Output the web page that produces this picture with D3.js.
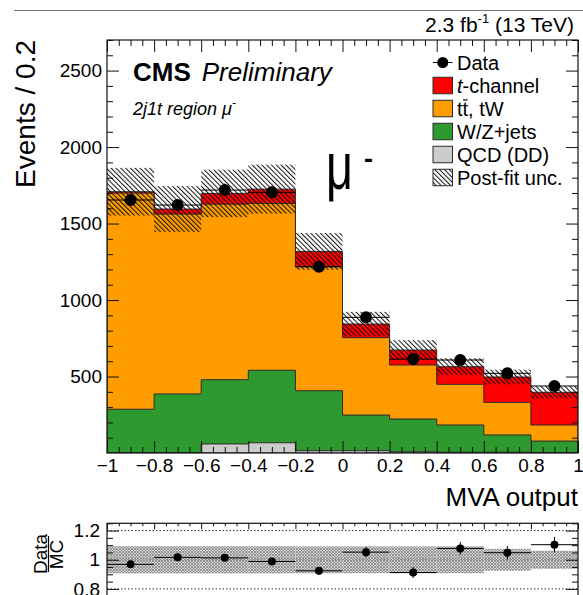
<!DOCTYPE html>
<html>
<head>
<meta charset="utf-8">
<script src="https://cdn.jsdelivr.net/npm/d3@7"></script>
<style>
  html, body { margin: 0; padding: 0; background: #fff; }
  svg { display: block; font-family: "Liberation Sans", Arial, Helvetica, sans-serif; }
</style>
</head>
<body>
<svg id="chart" width="583" height="595"></svg>
<script>
// Binning of the MVA discriminant (10 bins of width 0.2)
const binEdges = [-1, -0.8, -0.6, -0.4, -0.2, 0, 0.2, 0.4, 0.6, 0.8, 1];

// Post-fit yields per bin, stacked bottom to top
const qcdDD    = [0, 0, 59, 67, 15, 15, 8, 5, 5, 3];
const wzJets   = [286, 386, 420, 474, 392, 233, 214, 178, 113, 75];
const ttbarTW  = [1413, 1176, 1148, 1091, 811, 506, 353, 266, 213, 105];
const tChannel = [9, 33, 70, 93, 100, 89, 98, 115, 166, 214];

// Observed events per bin
const dataCounts = [1654, 1621, 1719, 1704, 1218, 887, 614, 608, 521, 438];

// Absolute post-fit uncertainty on the stack total, per bin
const postFitUnc = [156, 150, 155, 160, 120, 80, 65, 55, 48, 40];
// Relative uncertainty band shown in the ratio panel
const ratioBandUnc = [0.093, 0.093, 0.093, 0.093, 0.092, 0.092, 0.092, 0.092, 0.075, 0.062];

// Axis ticks
const xTicks = [-1, -0.8, -0.6, -0.4, -0.2, 0, 0.2, 0.4, 0.6, 0.8, 1];
const yTicks = [500, 1000, 1500, 2000, 2500];
const ratioTicks = [0.8, 1, 1.2];

const colors = { tch: "#ff0000", tt: "#ff9c00", wz: "#2e992e", qcd: "#cccccc", line: "#2b2b2b" };

const svg = d3.select("#chart");
const font = '"Liberation Sans", Arial, Helvetica, sans-serif';

// Layout of the two pads
const L = 107, R = 578;
const mainTop = 40, mainBot = 453;
const ratTop = 523.3, ratBot = 596.2;

const x = d3.scaleLinear().domain([-1, 1]).range([L, R]);
const y = d3.scaleLinear().domain([0, 2700]).range([mainBot, mainTop]);
const yr = d3.scaleLinear().domain([0.75, 1.25]).range([ratBot, ratTop]);

// Patterns: diagonal hatch for the post-fit uncertainty, cross-hatch for the ratio band
const defs = svg.append("defs");
const hatch = defs.append("pattern").attr("id", "hatch")
  .attr("patternUnits", "userSpaceOnUse").attr("width", 3.4).attr("height", 10)
  .attr("patternTransform", "rotate(-45)");
hatch.append("line").attr("x1", 0.5).attr("y1", 0).attr("x2", 0.5).attr("y2", 10)
  .attr("stroke", "#111").attr("stroke-width", 1);

const cross = defs.append("pattern").attr("id", "cross")
  .attr("patternUnits", "userSpaceOnUse").attr("width", 3).attr("height", 3);
cross.append("rect").attr("width", 3).attr("height", 3).attr("fill", "#d2d2d2");
cross.append("path").attr("d", "M0,0L3,3M3,0L0,3").attr("stroke", "#858585").attr("stroke-width", 0.8);

const clipMain = defs.append("clipPath").attr("id", "clipMain");
clipMain.append("rect").attr("x", L).attr("y", mainTop).attr("width", R - L).attr("height", mainBot - mainTop);
const clipRat = defs.append("clipPath").attr("id", "clipRat");
clipRat.append("rect").attr("x", L).attr("y", ratTop).attr("width", R - L).attr("height", ratBot - ratTop);

// Top border line of the canvas
svg.append("line").attr("x1", 14).attr("x2", 583).attr("y1", 10.5).attr("y2", 10.5)
  .attr("stroke", "#777").attr("stroke-width", 1.2);

// ---------- stacked histogram ----------
const nb = dataCounts.length;
const cumQcd = qcdDD.slice();
const cumWz = cumQcd.map((v, i) => v + wzJets[i]);
const cumTt = cumWz.map((v, i) => v + ttbarTW[i]);
const cumTot = cumTt.map((v, i) => v + tChannel[i]);

function stepPath(vals, ys) {
  let d = `M${x(binEdges[0])},${ys(0)}`;
  vals.forEach((v, i) => {
    d += `L${x(binEdges[i])},${ys(v)}L${x(binEdges[i + 1])},${ys(v)}`;
  });
  d += `L${x(binEdges[nb])},${ys(0)}Z`;
  return d;
}

const gMain = svg.append("g").attr("clip-path", "url(#clipMain)");
[[cumTot, colors.tch], [cumTt, colors.tt], [cumWz, colors.wz], [cumQcd, colors.qcd]].forEach(([vals, c]) => {
  gMain.append("path").attr("d", stepPath(vals, y))
    .attr("fill", c).attr("stroke", colors.line).attr("stroke-width", 1);
});

// post-fit uncertainty hatch around the stack total
gMain.selectAll("rect.unc").data(cumTot).join("rect").attr("class", "unc")
  .attr("x", (d, i) => x(binEdges[i]))
  .attr("width", (d, i) => x(binEdges[i + 1]) - x(binEdges[i]))
  .attr("y", (d, i) => y(d + postFitUnc[i]))
  .attr("height", (d, i) => y(d - postFitUnc[i]) - y(d + postFitUnc[i]))
  .attr("fill", "url(#hatch)");

// data points with error bars
const centers = binEdges.slice(0, nb).map((e, i) => (e + binEdges[i + 1]) / 2);
const gData = svg.append("g");
dataCounts.forEach((n, i) => {
  const err = Math.sqrt(n);
  gData.append("line").attr("x1", x(binEdges[i])).attr("x2", x(binEdges[i + 1]))
    .attr("y1", y(n)).attr("y2", y(n)).attr("stroke", "#000").attr("stroke-width", 1);
  gData.append("line").attr("x1", x(centers[i])).attr("x2", x(centers[i]))
    .attr("y1", y(n - err)).attr("y2", y(n + err)).attr("stroke", "#000").attr("stroke-width", 1);
  gData.append("circle").attr("cx", x(centers[i])).attr("cy", y(n)).attr("r", 6).attr("fill", "#000");
});

// ---------- axes / frame of main pad ----------
const minorX = d3.range(-1, 1.0001, 0.05).map(v => +v.toFixed(2)).filter(v => !xTicks.some(t => Math.abs(t - v) < 1e-6));
const minorY = d3.range(0, 2701, 100).filter(v => v % 500 !== 0);
const fmtX = d3.format("~g");

function styleAxis(g) {
  g.select(".domain").remove();
  g.selectAll(".tick line").attr("stroke", "#111").attr("stroke-width", 1);
  g.selectAll(".tick text").attr("fill", "#000").style("font-family", font);
}

svg.append("g").attr("transform", `translate(0,${mainBot})`)
  .call(d3.axisBottom(x).tickValues(xTicks).tickFormat(fmtX).tickSize(-12).tickPadding(6))
  .call(styleAxis).selectAll("text").style("font-size", "19px");
svg.append("g").attr("transform", `translate(0,${mainBot})`)
  .call(d3.axisBottom(x).tickValues(minorX).tickFormat("").tickSize(-6)).call(styleAxis);
svg.append("g").attr("transform", `translate(0,${mainTop})`)
  .call(d3.axisTop(x).tickValues(xTicks).tickFormat("").tickSize(-12)).call(styleAxis);
svg.append("g").attr("transform", `translate(0,${mainTop})`)
  .call(d3.axisTop(x).tickValues(minorX).tickFormat("").tickSize(-6)).call(styleAxis);

svg.append("g").attr("transform", `translate(${L},0)`)
  .call(d3.axisLeft(y).tickValues(yTicks).tickFormat(d3.format("d")).tickSize(-12).tickPadding(5))
  .call(styleAxis).selectAll("text").style("font-size", "19px");
svg.append("g").attr("transform", `translate(${L},0)`)
  .call(d3.axisLeft(y).tickValues(minorY).tickFormat("").tickSize(-6)).call(styleAxis);
svg.append("g").attr("transform", `translate(${R},0)`)
  .call(d3.axisRight(y).tickValues(yTicks).tickFormat("").tickSize(-12)).call(styleAxis);
svg.append("g").attr("transform", `translate(${R},0)`)
  .call(d3.axisRight(y).tickValues(minorY).tickFormat("").tickSize(-6)).call(styleAxis);

svg.append("rect").attr("x", L).attr("y", mainTop).attr("width", R - L).attr("height", mainBot - mainTop)
  .attr("fill", "none").attr("stroke", "#111").attr("stroke-width", 1.2);

// axis titles
svg.append("text").attr("transform", "translate(35,40) rotate(-90)")
  .attr("text-anchor", "end").style("font-size", "28px").text("Events / 0.2");
svg.append("text").attr("x", R).attr("y", 506).attr("text-anchor", "end")
  .style("font-size", "26px").text("MVA output");

// ---------- labels ----------
const lumi = svg.append("text").attr("x", 574).attr("y", 32).attr("text-anchor", "end").style("font-size", "21px");
lumi.append("tspan").text("2.3 fb");
lumi.append("tspan").attr("dy", -9).style("font-size", "13px").text("-1");
lumi.append("tspan").attr("dy", 9).text(" (13 TeV)");

const cms = svg.append("text").attr("x", 133).attr("y", 81).style("font-size", "26px");
cms.append("tspan").style("font-weight", "bold").text("CMS");
cms.append("tspan").attr("dx", 11).style("font-style", "italic").text("Preliminary");

const reg = svg.append("text").attr("x", 133).attr("y", 115).style("font-size", "18px").style("font-style", "italic");
reg.append("tspan").text("2j1t region μ");
reg.append("tspan").attr("dy", -8).style("font-size", "12px").text("-");

const bigMu = svg.append("text").attr("transform", "translate(326,189) scale(0.71,1)").style("font-size", "66px");
bigMu.append("tspan").text("μ");
bigMu.append("tspan").attr("dx", 15).attr("dy", -18).style("font-size", "40px").text("-");

// ---------- legend ----------
const legY = [62.5, 85.5, 108.5, 131.5, 154.5, 177.5];
const legX = 433, legW = 19.5, legH = 16.5, legTx = 457;
const leg = svg.append("g").style("font-size", "20px");

// Data entry: marker with horizontal bar
leg.append("line").attr("x1", legX).attr("x2", legX + legW).attr("y1", legY[0]).attr("y2", legY[0]).attr("stroke", "#000");
leg.append("circle").attr("cx", legX + legW / 2).attr("cy", legY[0]).attr("r", 5.5).attr("fill", "#000");
leg.append("text").attr("x", legTx).attr("y", legY[0] + 7).text("Data");

const boxes = [[colors.tch, 1], [colors.tt, 2], [colors.wz, 3], [colors.qcd, 4], ["url(#hatch)", 5]];
boxes.forEach(([c, k]) => {
  if (k === 5) leg.append("rect").attr("x", legX).attr("y", legY[k] - legH / 2).attr("width", legW).attr("height", legH).attr("fill", "#fff");
  leg.append("rect").attr("x", legX).attr("y", legY[k] - legH / 2).attr("width", legW).attr("height", legH)
    .attr("fill", c).attr("stroke", colors.line).attr("stroke-width", 1);
});

const tch = leg.append("text").attr("x", legTx).attr("y", legY[1] + 7);
tch.append("tspan").style("font-style", "italic").text("t");
tch.append("tspan").text("-channel");

const ttText = leg.append("text").attr("x", legTx).attr("y", legY[2] + 7).text("tt, tW");
// bar over the second t of "tt"
{
  const ext = ttText.node().getExtentOfChar(1);
  leg.append("line").attr("x1", ext.x + 0.5).attr("x2", ext.x + ext.width - 0.5)
    .attr("y1", legY[2] - 8.5).attr("y2", legY[2] - 8.5).attr("stroke", "#000").attr("stroke-width", 1.2);
}
leg.append("text").attr("x", legTx).attr("y", legY[3] + 7).text("W/Z+jets");
leg.append("text").attr("x", legTx).attr("y", legY[4] + 7).text("QCD (DD)");
leg.append("text").attr("x", legTx).attr("y", legY[5] + 7).text("Post-fit unc.");

// ---------- ratio pad ----------
const gRat = svg.append("g").attr("clip-path", "url(#clipRat)");
ratioBandUnc.forEach((u, i) => {
  gRat.append("rect").attr("x", x(binEdges[i])).attr("width", x(binEdges[i + 1]) - x(binEdges[i]))
    .attr("y", yr(1 + u)).attr("height", yr(1 - u) - yr(1 + u)).attr("fill", "url(#cross)");
});
[1.2, 1, 0.8].forEach(v => {
  gRat.append("line").attr("x1", L).attr("x2", R).attr("y1", yr(v)).attr("y2", yr(v))
    .attr("stroke", v === 1 ? "#777" : "#333").attr("stroke-width", 1).attr("stroke-dasharray", "1.5,2");
});
dataCounts.forEach((n, i) => {
  const r = n / cumTot[i];
  const e = Math.sqrt(n) / cumTot[i];
  gRat.append("line").attr("x1", x(binEdges[i])).attr("x2", x(binEdges[i + 1]))
    .attr("y1", yr(r)).attr("y2", yr(r)).attr("stroke", "#000").attr("stroke-width", 1);
  gRat.append("line").attr("x1", x(centers[i])).attr("x2", x(centers[i]))
    .attr("y1", yr(r - e)).attr("y2", yr(r + e)).attr("stroke", "#000").attr("stroke-width", 1);
  gRat.append("circle").attr("cx", x(centers[i])).attr("cy", yr(r)).attr("r", 4).attr("fill", "#000");
});

const minorR = d3.range(0.75, 1.2501, 0.05).map(v => +v.toFixed(2)).filter(v => !ratioTicks.includes(v));
svg.append("g").attr("transform", `translate(0,${ratTop})`)
  .call(d3.axisTop(x).tickValues(xTicks).tickFormat("").tickSize(-6)).call(styleAxis);
svg.append("g").attr("transform", `translate(0,${ratTop})`)
  .call(d3.axisTop(x).tickValues(minorX).tickFormat("").tickSize(-3)).call(styleAxis);
svg.append("g").attr("transform", `translate(${L},0)`)
  .call(d3.axisLeft(yr).tickValues(ratioTicks).tickFormat(d3.format("~g")).tickSize(-12).tickPadding(7))
  .call(styleAxis).selectAll("text").style("font-size", "19px");
svg.append("g").attr("transform", `translate(${L},0)`)
  .call(d3.axisLeft(yr).tickValues(minorR).tickFormat("").tickSize(-6)).call(styleAxis);
svg.append("g").attr("transform", `translate(${R},0)`)
  .call(d3.axisRight(yr).tickValues(ratioTicks).tickFormat("").tickSize(-12)).call(styleAxis);
svg.append("g").attr("transform", `translate(${R},0)`)
  .call(d3.axisRight(yr).tickValues(minorR).tickFormat("").tickSize(-6)).call(styleAxis);
svg.append("rect").attr("x", L).attr("y", ratTop).attr("width", R - L).attr("height", ratBot - ratTop)
  .attr("fill", "none").attr("stroke", "#111").attr("stroke-width", 1.2);

// Data/MC fraction title
svg.append("text").attr("transform", "translate(46.5,554) rotate(-90)").attr("text-anchor", "middle")
  .style("font-size", "19px").text("Data");
svg.append("line").attr("x1", 48.5).attr("x2", 48.5).attr("y1", 536).attr("y2", 572).attr("stroke", "#000").attr("stroke-width", 1.2);
svg.append("text").attr("transform", "translate(63,554.5) rotate(-90)").attr("text-anchor", "middle")
  .style("font-size", "19px").text("MC");
</script>
</body>
</html>
